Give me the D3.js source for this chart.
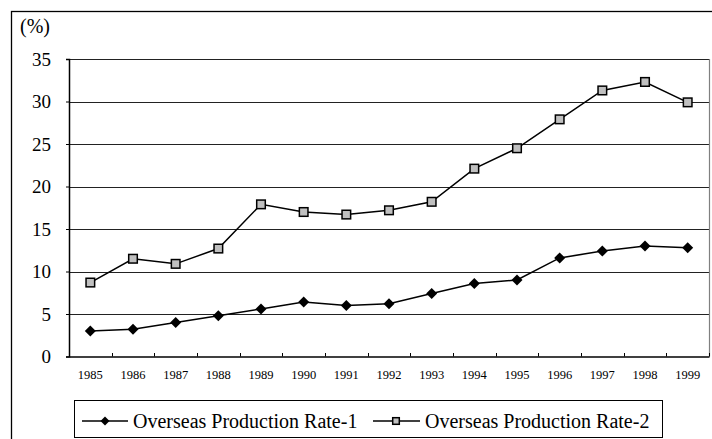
<!DOCTYPE html>
<html><head><meta charset="utf-8">
<script src="https://cdn.jsdelivr.net/npm/d3@7"></script>
<style>body{margin:0;background:#fff}svg{display:block}text{font-family:"Liberation Serif","Times New Roman",serif;fill:#000}</style>
</head><body><svg id="c" width="712" height="439"></svg>
<script>
const years = ["1985","1986","1987","1988","1989","1990","1991","1992","1993","1994","1995","1996","1997","1998","1999"];
const rate1 = [3.0,3.2,4.0,4.8,5.6,6.4,6.0,6.2,7.4,8.6,9.0,11.6,12.4,13.0,12.8];
const rate2 = [8.7,11.5,10.9,12.7,17.9,17.0,16.7,17.2,18.2,22.1,24.5,27.9,31.3,32.3,29.9];
const yTicks = [0,5,10,15,20,25,30,35];
const seriesNames = ["Overseas Production Rate-1","Overseas Production Rate-2"];

const svg = d3.select("#c");
const L=69, R=709, T=59, B=356.5;
const x = d3.scaleBand().domain(years).range([L,R]);
const y = d3.scaleLinear().domain([0,35]).range([B,T]);

// outer border
svg.append("rect").attr("x",11.5).attr("y",11.5).attr("width",720).attr("height",440)
  .attr("fill","none").attr("stroke","#000").attr("stroke-width",1.3);

// gridlines
svg.append("g").selectAll("line").data(yTicks.filter(d=>d>0)).join("line")
  .attr("x1",L).attr("x2",R).attr("y1",d=>Math.round(y(d))+0.5).attr("y2",d=>Math.round(y(d))+0.5)
  .attr("stroke","#222").attr("stroke-width",1);
// right border
svg.append("line").attr("x1",R+0.5).attr("x2",R+0.5).attr("y1",T).attr("y2",B).attr("stroke","#808080").attr("stroke-width",1.2);

// y axis
const ya = svg.append("g").attr("transform",`translate(${L},0)`)
  .call(d3.axisLeft(y).tickValues(yTicks).tickSize(3).tickPadding(15));
ya.select(".domain").attr("stroke","#000").attr("stroke-width",1.5);
ya.selectAll(".tick line").attr("stroke","#000");
ya.selectAll("text").attr("font-size",19).attr("font-family","Liberation Serif");

// x axis
const xa = svg.append("g").attr("transform",`translate(0,${B})`)
  .call(d3.axisBottom(x).tickSize(0).tickPadding(14));
xa.select(".domain").attr("stroke","#000").attr("stroke-width",1.5);
xa.selectAll("text").attr("font-size",12.5).attr("font-family","Liberation Serif");
// inward tick marks at band boundaries
svg.append("g").selectAll("line").data(years.slice(1).concat(["end"])).join("line")
  .attr("x1",(d,i)=>Math.round(x(years[0])+x.step()*(i+1))+0.5)
  .attr("x2",(d,i)=>Math.round(x(years[0])+x.step()*(i+1))+0.5)
  .attr("y1",B).attr("y2",B-3.5).attr("stroke","#000").attr("stroke-width",1);

svg.append("text").attr("x",20).attr("y",33).attr("font-size",20).text("(%)");

const cx = d=>x(d)+x.bandwidth()/2;
const line = d3.line().x((d,i)=>cx(years[i])).y(d=>y(d));
[rate1,rate2].forEach(s=>{
  svg.append("path").datum(s).attr("d",line).attr("fill","none").attr("stroke","#000").attr("stroke-width",1.5);
});
const diamond = (g, px, py, r)=> g.append("path")
  .attr("d",`M${px},${py-r}L${px+r},${py}L${px},${py+r}L${px-r},${py}Z`).attr("fill","#000");
const square = (g, px, py, h)=> g.append("rect").attr("x",px-h).attr("y",py-h).attr("width",2*h).attr("height",2*h)
  .attr("fill","#c0c0c0").attr("stroke","#000").attr("stroke-width",1.5);
const mg = svg.append("g");
rate1.forEach((v,i)=>diamond(mg,cx(years[i]),y(v),5.5));
rate2.forEach((v,i)=>square(mg,cx(years[i]),y(v),4.3));

// legend
const lg = svg.append("g");
lg.append("rect").attr("x",74.5).attr("y",400.5).attr("width",588).attr("height",37)
  .attr("fill","#fff").attr("stroke","#000").attr("stroke-width",1);
const ly = 421;
lg.append("line").attr("x1",82).attr("x2",128).attr("y1",ly).attr("y2",ly).attr("stroke","#000").attr("stroke-width",1.5);
diamond(lg,105,ly,4.5);
lg.append("text").attr("x",133).attr("y",ly+6.5).attr("font-size",20).text(seriesNames[0]);
lg.append("line").attr("x1",373).attr("x2",420).attr("y1",ly).attr("y2",ly).attr("stroke","#000").attr("stroke-width",1.5);
square(lg,396,ly,3.3);
lg.append("text").attr("x",425).attr("y",ly+6.5).attr("font-size",20).text(seriesNames[1]);
</script></body></html>
